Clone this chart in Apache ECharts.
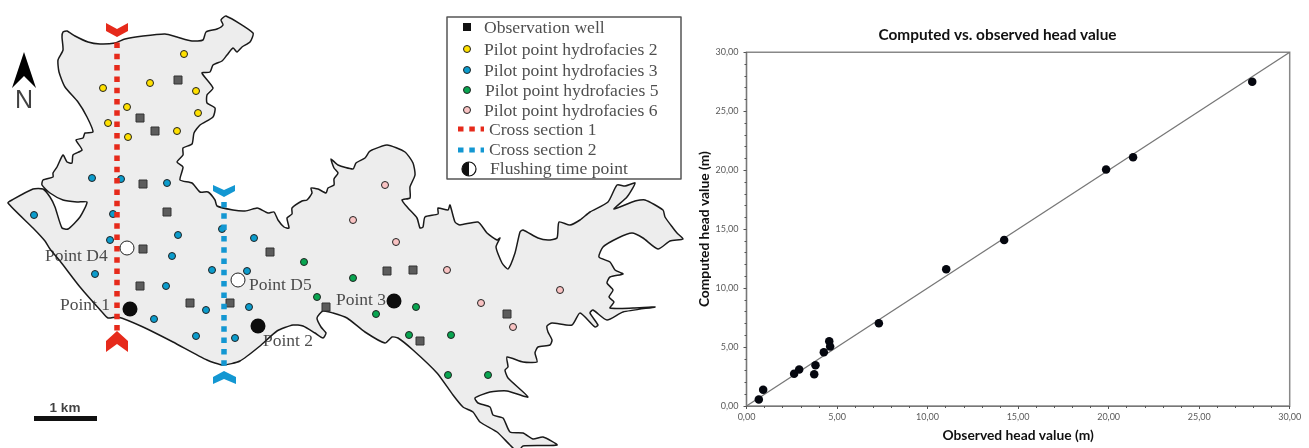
<!DOCTYPE html>
<html><head><meta charset="utf-8">
<style>html,body{margin:0;padding:0;background:#fff}#c{width:1309px;height:448px}</style>
<script src="https://cdn.jsdelivr.net/npm/echarts@6/dist/echarts.min.js"></script>
</head><body><div id="c"></div>
<script>
// ---- scatter panel data ----
const observedComputed = [[0.68,0.56],[0.92,1.38],[2.63,2.73],[2.91,3.1],[3.74,2.7],[3.81,3.46],[4.27,4.56],[4.57,5.49],[4.62,5.04],[7.31,7.01],[11.03,11.6],[14.23,14.08],[19.86,20.06],[21.35,21.1],[27.93,27.5]];
const identityLine = [[0,0],[30,30]];
// ---- map panel data (map units) ----
const outline = [[63,32],[67,31],[75,36],[88,42],[100,44],[115,43],[125,39],[143,36],[165,34],[177,37],[192,41],[203,40],[206,32],[217,29],[223,25],[221,20],[226,16],[253,33],[250,42],[242,47],[237,52],[233,48],[227,55],[222,61],[213,65],[210,72],[202,73],[213,88],[207,95],[207,103],[215,108],[213,117],[200,125],[194,133],[192,144],[183,148],[183,155],[177,162],[183,167],[180,180],[192,183],[200,192],[208,192],[215,200],[217,206],[233,210],[245,211],[257,208],[260,209],[268,213],[274,212],[278,220],[284,227],[289,228],[287,218],[292,214],[292,208],[302,201],[307,200],[312,193],[311,188],[318,189],[326,193],[328,188],[334,185],[334,179],[338,173],[334,168],[331,159],[338,165],[353,169],[356,163],[365,158],[369,152],[372,150],[387,145],[405,152],[413,163],[415,175],[410,187],[410,198],[402,200],[408,208],[417,218],[420,228],[423,227],[425,217],[438,214],[438,208],[448,210],[450,205],[455,222],[460,225],[478,222],[487,233],[497,240],[500,238],[496,247],[502,263],[508,269],[515,253],[520,232],[523,230],[538,238],[548,240],[557,238],[559,222],[570,225],[580,220],[590,212],[608,202],[617,185],[625,186],[635,183],[627,197],[614,209],[635,201],[645,200],[663,210],[665,217],[673,228],[677,233],[683,239],[670,241],[658,249],[643,238],[632,233],[618,238],[603,247],[599,257],[610,262],[615,270],[623,274],[610,277],[607,283],[613,290],[609,297],[614,302],[610,308],[633,308],[655,307],[623,312],[607,320],[593,310],[590,313],[598,325],[595,327],[580,313],[572,325],[552,323],[547,326],[548,332],[552,340],[550,345],[538,347],[535,353],[537,362],[523,362],[507,357],[508,367],[505,370],[508,378],[528,397],[507,391],[490,392],[475,398],[478,403],[490,407],[493,415],[503,418],[510,432],[523,433],[533,439],[543,437],[557,445],[523,446],[518,452],[510,445],[497,432],[480,422],[473,412],[463,407],[453,395],[437,373],[413,350],[398,338],[392,337],[385,343],[365,332],[347,318],[333,313],[323,311],[317,318],[321,327],[326,333],[323,338],[315,333],[303,326],[293,325],[277,331],[260,346],[240,361],[223,365],[207,360],[173,342],[143,327],[118,317],[108,318],[102,312],[80,287],[60,261],[50,249],[45,241],[33,228],[8,203],[12,200],[33,189],[43,189],[50,197],[55,207],[62,228],[68,229],[80,217],[87,202],[77,202],[63,200],[50,193],[42,185],[43,180],[53,177],[53,173],[57,167],[63,155],[67,162],[72,163],[73,155],[82,150],[76,140],[83,138],[85,133],[93,132],[87,117],[78,102],[65,87],[59,72],[58,60],[63,50],[62,37]];
const wells = [[178,80],[140,118],[155,131],[143,184],[167,212],[143,249],[140,286],[190,303],[230,303],[270,252],[326,307],[387,271],[413,270],[507,314],[420,341]];
const facies2 = [[184,54],[150,83],[103,88],[196,91],[127,107],[198,113],[108,123],[177,131],[128,137]];
const facies3 = [[92,178],[121,179],[167,183],[34,215],[113,214],[178,235],[222,229],[254,238],[110,240],[172,256],[212,270],[247,271],[95,274],[166,286],[206,310],[249,307],[154,319],[196,336],[235,338]];
const facies5 = [[304,262],[317,297],[353,278],[376,314],[416,307],[409,335],[451,335],[448,375],[488,375]];
const facies6 = [[385,185],[353,220],[396,242],[447,270],[481,303],[560,290],[513,327]];
const section1 = [[117,42.5],[117,331]];
const section2 = [[224,202],[224,366]];
const whitePoints = [[127,248],[238,280]];
const blackPoints = [[130,309],[258,326],[394,301]];
const chevronRedTop = [[106,23],[117,29],[128,23],[128,31],[117,37],[106,31]];
const chevronRedBottom = [[117,331],[128,341],[128,352],[117,344],[106,352],[106,341]];
const chevronBlueTop = [[213,185],[224,190],[235,185],[235,191],[224,197],[213,191]];
const chevronBlueBottom = [[224,371],[236,377],[236,384],[224,379],[213,384],[213,377]];
const northArrow = [[24,52],[36,88],[24,76],[12,88]];
const scaleBar = [[34,416],[97,416],[97,421],[34,421]];
const legendBox = [[447,17],[681,17],[681,179],[447,179]];
const pointLabels = [[45,256,'Point D4'],[60,305,'Point 1'],[249,285,'Point D5'],[263,341,'Point 2'],[336,300,'Point 3']];
const legendLabels = [[484,28,'Observation well'],[484,50,'Pilot point hydrofacies 2'],[484,71,'Pilot point hydrofacies 3'],[485,91,'Pilot point hydrofacies 5'],[484,111,'Pilot point hydrofacies 6'],[489,130,'Cross section 1'],[489,150,'Cross section 2'],[490,169,'Flushing time point']];
const legendWell = [[467,27]];
const legendF2 = [[467,49]];
const legendF3 = [[467,70]];
const legendF5 = [[467,90]];
const legendF6 = [[467,110]];
const legendDash1 = [[458,129],[484,129]];
const legendDash2 = [[458,150],[484,150]];
const legendFlush = [[469,169]];

const serif = '"Liberation Serif", serif';
const mapAxes = {xAxisIndex:0, yAxisIndex:0};
function poly(name, pts, fill, stroke, lw, z, smooth){
  return Object.assign({type:'custom', name, z, silent:true, clip:false, data:pts,
    renderItem(p, api){
      if(p.dataIndex!==0) return null;
      return {type:'polygon', shape:{points:pts.map(q=>api.coord(q)), smooth:smooth||0},
        style:{fill, stroke, lineWidth:lw, lineJoin:'round'}};
    }}, mapAxes);
}
function dots(name, data, symbol, size, color, border, bw, z){
  return Object.assign({type:'scatter', name, data, symbol, symbolSize:size, z, silent:true,
    itemStyle:{color, borderColor:border, borderWidth:bw, opacity:1}}, mapAxes);
}
function dash(name, data, color, w, z){
  return Object.assign({type:'line', name, data, z, silent:true, showSymbol:false, symbol:'none',
    lineStyle:{color, width:w, type:[5.5,5.8], cap:'butt'}}, mapAxes);
}
function labels(name, rows, size, z){
  return Object.assign({type:'scatter', name, z, silent:true, symbolSize:0,
    data:rows.map(r=>({value:[r[0],r[1]], name:r[2]})),
    label:{show:true, position:'right', distance:0, formatter:'{b}', fontFamily:serif, fontSize:size, color:'#222'}}, mapAxes);
}
const fmt = v => v.toFixed(2).replace('.',',');
const wellC='#5c5c5c', wellB='#333', dotB='#222';
const Y='#ffe000', B='#0b9ccc', G='#08a550', P='#f9c3c3', RED='#e62a1b', BLU='#1397d2';

const option = {
  animation:false, backgroundColor:'#fff',
  title:{text:'Computed vs. observed head value', left:992.5, top:23, textAlign:'center',
    textStyle:{fontFamily:'Lato', fontWeight:'bold', fontSize:15.4, color:'#111'}},
  grid:[
    {left:0, top:0, width:690, height:448, show:false},
    {left:746.5, top:52.3, width:543.2, height:355, show:true, borderColor:'#888', borderWidth:1.5, backgroundColor:'#fff'}
  ],
  xAxis:[
    {gridIndex:0, type:'value', min:0, max:690, show:false},
    {gridIndex:1, type:'value', min:0, max:30, interval:5, name:'Observed head value (m)', nameLocation:'middle', nameGap:23,
     nameTextStyle:{fontFamily:'Lato', fontWeight:'bold', fontSize:13.8, color:'#111'},
     axisLine:{lineStyle:{color:'#777', width:1.2}}, axisTick:{length:3, lineStyle:{color:'#555'}},
     minorTick:{show:true, splitNumber:5, length:2, lineStyle:{color:'#555'}}, splitLine:{show:false},
     axisLabel:{formatter:fmt, margin:7, fontFamily:'Lato', fontSize:9, color:'#5a5a5a', showMaxLabel:true}}
  ],
  yAxis:[
    {gridIndex:0, type:'value', min:0, max:448, inverse:true, show:false},
    {gridIndex:1, type:'value', min:0, max:30, interval:5, name:'Computed head value (m)', nameLocation:'middle', nameGap:31,
     nameTextStyle:{fontFamily:'Lato', fontWeight:'bold', fontSize:13.8, color:'#111'},
     axisLine:{lineStyle:{color:'#777', width:1.2}}, axisTick:{length:3, lineStyle:{color:'#555'}},
     minorTick:{show:true, splitNumber:5, length:2, lineStyle:{color:'#555'}}, splitLine:{show:false},
     axisLabel:{formatter:fmt, margin:8, fontFamily:'Lato', fontSize:9, color:'#5a5a5a'}}
  ],
  series:[
    poly('Study area', outline, '#ededed', '#1a1a1a', 1.5, 1, 0.2),
    dots('Observation well', wells, 'rect', 8, wellC, wellB, 1, 3),
    dots('Pilot point hydrofacies 2', facies2, 'circle', 7, Y, dotB, 1, 3),
    dots('Pilot point hydrofacies 3', facies3, 'circle', 7, B, dotB, 1, 3),
    dots('Pilot point hydrofacies 5', facies5, 'circle', 7, G, dotB, 1, 3),
    dots('Pilot point hydrofacies 6', facies6, 'circle', 7, P, dotB, 1, 3),
    dash('Cross section 1', section1, RED, 5.5, 4),
    dash('Cross section 2', section2, BLU, 5.5, 4),
    poly('Cross section 1 top', chevronRedTop, RED, 'none', 0, 4),
    poly('Cross section 1 bottom', chevronRedBottom, RED, 'none', 0, 4),
    poly('Cross section 2 top', chevronBlueTop, BLU, 'none', 0, 4),
    poly('Cross section 2 bottom', chevronBlueBottom, BLU, 'none', 0, 4),
    dots('Flushing point open', whitePoints, 'circle', 14, '#fff', '#222', 1, 5),
    dots('Flushing point solid', blackPoints, 'circle', 15, '#0c0c0c', '#0c0c0c', 0, 5),
    poly('North arrow', northArrow, '#000', 'none', 0, 4),
    poly('Scale bar', scaleBar, '#111', 'none', 0, 4),
    Object.assign({type:'scatter', name:'North', z:6, silent:true, symbolSize:0, data:[{value:[24,101], name:'N'}],
      label:{show:true, position:'inside', formatter:'{b}', fontFamily:'"Liberation Sans"', fontSize:25, color:'#111'}}, mapAxes),
    Object.assign({type:'scatter', name:'Scale', z:6, silent:true, symbolSize:0, data:[{value:[65,408], name:'1 km'}],
      label:{show:true, position:'inside', formatter:'{b}', fontFamily:'"Liberation Sans"', fontWeight:'bold', fontSize:13.5, color:'#111'}}, mapAxes),
    labels('Point labels', pointLabels, 17.5, 6),
    poly('Legend box', legendBox, '#fff', '#555', 1.5, 7),
    labels('Legend labels', legendLabels, 17.6, 9),
    dots('Legend well', legendWell, 'rect', 8, '#111', '#111', 0, 8),
    dots('Legend hydrofacies 2', legendF2, 'circle', 7, Y, dotB, 1, 8),
    dots('Legend hydrofacies 3', legendF3, 'circle', 7, B, dotB, 1, 8),
    dots('Legend hydrofacies 5', legendF5, 'circle', 7, G, dotB, 1, 8),
    dots('Legend hydrofacies 6', legendF6, 'circle', 7, P, dotB, 1, 8),
    dash('Legend section 1', legendDash1, RED, 5, 8),
    dash('Legend section 2', legendDash2, BLU, 5, 8),
    Object.assign({type:'custom', name:'Legend flushing', z:8, silent:true, clip:false, data:legendFlush,
      renderItem(p, api){
        const c = api.coord(legendFlush[p.dataIndex]), r = 7;
        return {type:'group', children:[
          {type:'circle', shape:{cx:c[0], cy:c[1], r}, style:{fill:'#fff', stroke:'#111', lineWidth:1.2}},
          {type:'sector', shape:{cx:c[0], cy:c[1], r, r0:0, startAngle:Math.PI/2, endAngle:Math.PI*1.5}, style:{fill:'#111'}}
        ]};
      }}, mapAxes),
    {type:'line', name:'1:1 line', xAxisIndex:1, yAxisIndex:1, data:identityLine, z:2, silent:true, showSymbol:false, symbol:'none',
     lineStyle:{color:'#777', width:1.3}},
    {type:'scatter', name:'Computed vs. observed', xAxisIndex:1, yAxisIndex:1, data:observedComputed, z:3, silent:true, symbolSize:8.5,
     itemStyle:{color:'#05070f', opacity:1}}
  ]
};
const chart = echarts.init(document.getElementById('c'), null, {renderer:'canvas'});
chart.setOption(option);
</script></body></html>
